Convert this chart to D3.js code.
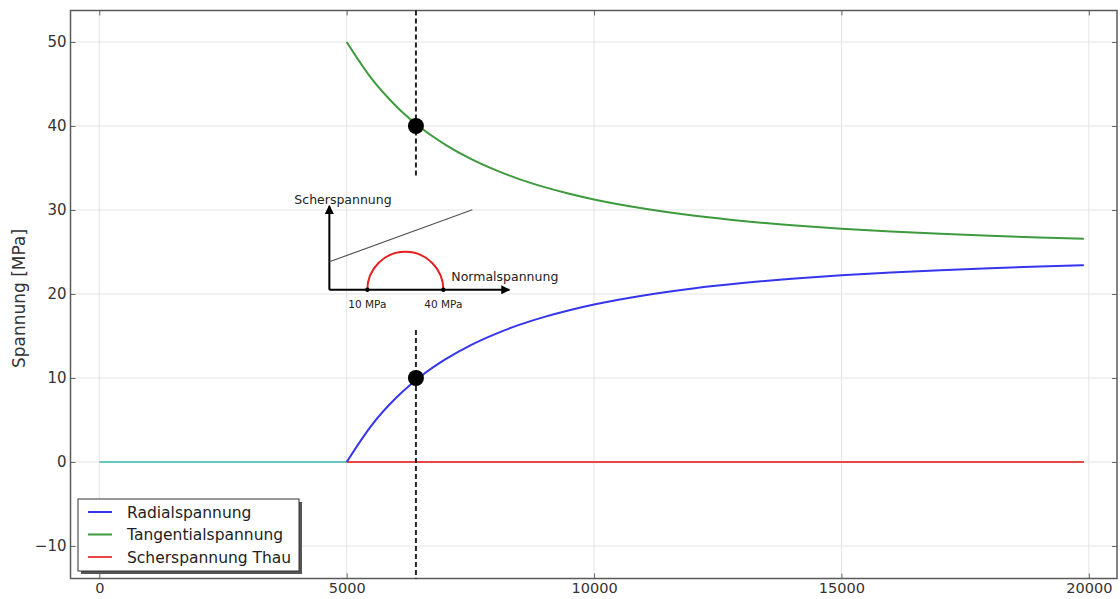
<!DOCTYPE html>
<html>
<head>
<meta charset="utf-8">
<script src="https://cdn.jsdelivr.net/npm/d3@7"></script>
<style>
  html, body { margin: 0; padding: 0; background: #ffffff; }
  svg { display: block; font-family: "DejaVu Sans", sans-serif; }
</style>
</head>
<body>
<svg id="chart" width="1120" height="599"></svg>
<script>
// ---------- data ----------
const xCurve = [5000, 5500, 6000, 6500, 7000, 7500, 8000, 8500, 9000, 9500, 10000,
                11000, 12000, 13000, 14000, 15000, 16000, 17000, 18000, 19000, 19900];
const radialValues = [0, 4.34, 7.64, 10.21, 12.24, 13.89, 15.23, 16.35, 17.28, 18.07, 18.75,
                      19.83, 20.66, 21.30, 21.81, 22.22, 22.56, 22.84, 23.07, 23.27, 23.42];
const tangentialValues = [50, 45.66, 42.36, 39.79, 37.76, 36.11, 34.77, 33.65, 32.72, 31.93, 31.25,
                          30.17, 29.34, 28.70, 28.19, 27.78, 27.44, 27.16, 26.93, 26.73, 26.58];
const xInner = [0, 5000];
const innerValues = [0, 0];
const xShear = [5000, 19900];
const shearValues = [0, 0];
const markerX = [6400, 6400];
const markerY = [40, 10];
const dashX = 6400;
const dashRanges = [[53.75, 34], [15.7, -13.9]];
const xTicks = [0, 5000, 10000, 15000, 20000];
const yTicks = [-10, 0, 10, 20, 30, 40, 50];
const legendLabels = ["Radialspannung", "Tangentialspannung", "Scherspannung Thau"];
const legendColors = ["#3535ee", "#3d9a3d", "#e84545"];
const insetTickLabels = ["10 MPa", "40 MPa"];

// ---------- layout ----------
const svg = d3.select("#chart");
const L = 70.5, R = 1117, T = 10.5, B = 578.5;
const x = d3.scaleLinear().domain([-582, 20570]).range([L, R]);
const y = d3.scaleLinear().domain([-13.87, 53.75]).range([B, T]);

svg.append("rect").attr("width", 1120).attr("height", 599).attr("fill", "#fff");

// grid
const grid = svg.append("g");
grid.selectAll("line.gx").data(xTicks).join("line")
  .attr("x1", d => x(d)).attr("x2", d => x(d)).attr("y1", T).attr("y2", B)
  .attr("stroke", "#e4e4e4").attr("stroke-width", 1);
grid.selectAll("line.gy").data(yTicks).join("line")
  .attr("y1", d => y(d)).attr("y2", d => y(d)).attr("x1", L).attr("x2", R)
  .attr("stroke", "#e4e4e4").attr("stroke-width", 1);

// axes (ticks inside, on all four sides)
const fmt = d => d < 0 ? "\u2212" + Math.abs(d) : String(d);
const axB = svg.append("g").attr("transform", `translate(0,${B})`)
  .call(d3.axisBottom(x).tickValues(xTicks).tickFormat(fmt).tickSizeInner(-5).tickSizeOuter(0).tickPadding(4));
const axT = svg.append("g").attr("transform", `translate(0,${T})`)
  .call(d3.axisTop(x).tickValues(xTicks).tickFormat("").tickSizeInner(-5).tickSizeOuter(0));
const axL = svg.append("g").attr("transform", `translate(${L},0)`)
  .call(d3.axisLeft(y).tickValues(yTicks).tickFormat(fmt).tickSizeInner(-5).tickSizeOuter(0).tickPadding(4));
const axR = svg.append("g").attr("transform", `translate(${R},0)`)
  .call(d3.axisRight(y).tickValues(yTicks).tickFormat("").tickSizeInner(-5).tickSizeOuter(0));
[axB, axT, axL, axR].forEach(a => {
  a.select(".domain").remove();
  a.selectAll(".tick line").attr("stroke", "#666");
  a.selectAll("text").attr("font-size", 15).attr("fill", "#333").attr("font-family", "DejaVu Sans, sans-serif");
});
axB.selectAll("text").attr("font-size", 14.5);
svg.append("rect").attr("x", L).attr("y", T).attr("width", R - L).attr("height", B - T)
  .attr("fill", "none").attr("stroke", "#5a5a5a").attr("stroke-width", 1.5);

// y label
svg.append("text").attr("transform", `translate(25,${(T + B) / 2 + 4}) rotate(-90)`)
  .attr("text-anchor", "middle").attr("font-size", 17).attr("fill", "#333").text("Spannung [MPa]");

// ---------- lines ----------
const line = d3.line().x(d => x(d[0])).y(d => y(d[1])).curve(d3.curveMonotoneX);
const plot = svg.append("g");
plot.append("path").datum(xInner.map((v, i) => [v, innerValues[i]]))
  .attr("d", line).attr("fill", "none").attr("stroke", "#66c6c6").attr("stroke-width", 2);
plot.append("path").datum(xShear.map((v, i) => [v, shearValues[i]]))
  .attr("d", line).attr("fill", "none").attr("stroke", legendColors[2]).attr("stroke-width", 2);
plot.append("path").datum(xCurve.map((v, i) => [v, radialValues[i]]))
  .attr("d", line).attr("fill", "none").attr("stroke", legendColors[0]).attr("stroke-width", 2);
plot.append("path").datum(xCurve.map((v, i) => [v, tangentialValues[i]]))
  .attr("d", line).attr("fill", "none").attr("stroke", legendColors[1]).attr("stroke-width", 2);

// dashed verticals
plot.selectAll("line.dash").data(dashRanges).join("line")
  .attr("x1", x(dashX)).attr("x2", x(dashX))
  .attr("y1", d => y(d[0])).attr("y2", d => y(d[1]))
  .attr("stroke", "#222").attr("stroke-width", 2).attr("stroke-dasharray", "5,3");

// markers
plot.selectAll("circle.m").data(markerX.map((v, i) => [v, markerY[i]])).join("circle")
  .attr("cx", d => x(d[0])).attr("cy", d => y(d[1])).attr("r", 8).attr("fill", "#000");

// ---------- inset Mohr diagram ----------
const ox = x(4650), oy = y(20.5);
const inset = svg.append("g").attr("transform", `translate(${ox},${oy})`);
const defs = svg.append("defs");
defs.append("marker").attr("id", "arrow").attr("viewBox", "0 0 10 10")
  .attr("refX", 9).attr("refY", 5).attr("markerWidth", 9).attr("markerHeight", 9)
  .attr("markerUnits", "userSpaceOnUse").attr("orient", "auto")
  .append("path").attr("d", "M0,0 L10,5 L0,10 Z").attr("fill", "#000");
inset.append("line").attr("x1", 0).attr("y1", 0).attr("x2", 180).attr("y2", 0)
  .attr("stroke", "#000").attr("stroke-width", 2).attr("marker-end", "url(#arrow)");
inset.append("line").attr("x1", 0).attr("y1", 0).attr("x2", 0).attr("y2", -84)
  .attr("stroke", "#000").attr("stroke-width", 2).attr("marker-end", "url(#arrow)");
inset.append("line").attr("x1", 0).attr("y1", -28).attr("x2", 143).attr("y2", -80)
  .attr("stroke", "#555").attr("stroke-width", 1.2);
const arc = d3.arc().innerRadius(38).outerRadius(38).startAngle(-Math.PI / 2).endAngle(Math.PI / 2);
inset.append("path").attr("d", arc()).attr("transform", "translate(76,0)")
  .attr("fill", "none").attr("stroke", "#e62020").attr("stroke-width", 2);
inset.selectAll("circle.d").data([38, 114]).join("circle")
  .attr("cx", d => d).attr("cy", 0).attr("r", 2.2).attr("fill", "#000");
inset.selectAll("text.tl").data(insetTickLabels).join("text")
  .attr("x", (d, i) => [38, 114][i]).attr("y", 18).attr("text-anchor", "middle")
  .attr("font-size", 10.5).attr("fill", "#222").text(d => d);
inset.append("text").attr("x", -35).attr("y", -86).attr("font-size", 12.5).attr("fill", "#222").text("Scherspannung");
inset.append("text").attr("x", 122).attr("y", -9).attr("font-size", 12.5).attr("fill", "#222").text("Normalspannung");

// ---------- legend ----------
const lg = svg.append("g").attr("transform", "translate(78,499)");
lg.append("rect").attr("x", 3).attr("y", 3).attr("width", 221).attr("height", 72).attr("fill", "#555");
lg.append("rect").attr("x", 0).attr("y", 0).attr("width", 221).attr("height", 72)
  .attr("fill", "#fff").attr("stroke", "#333").attr("stroke-width", 1);
const rows = lg.selectAll("g.row").data(legendLabels).join("g")
  .attr("transform", (d, i) => `translate(0,${13 + i * 22.5})`);
rows.append("line").attr("x1", 10).attr("x2", 34).attr("y1", 0).attr("y2", 0)
  .attr("stroke", (d, i) => legendColors[i]).attr("stroke-width", 2);
rows.append("text").attr("x", 49).attr("y", 5.5).attr("font-size", 15.5).attr("fill", "#222").text(d => d);
</script>
</body>
</html>
